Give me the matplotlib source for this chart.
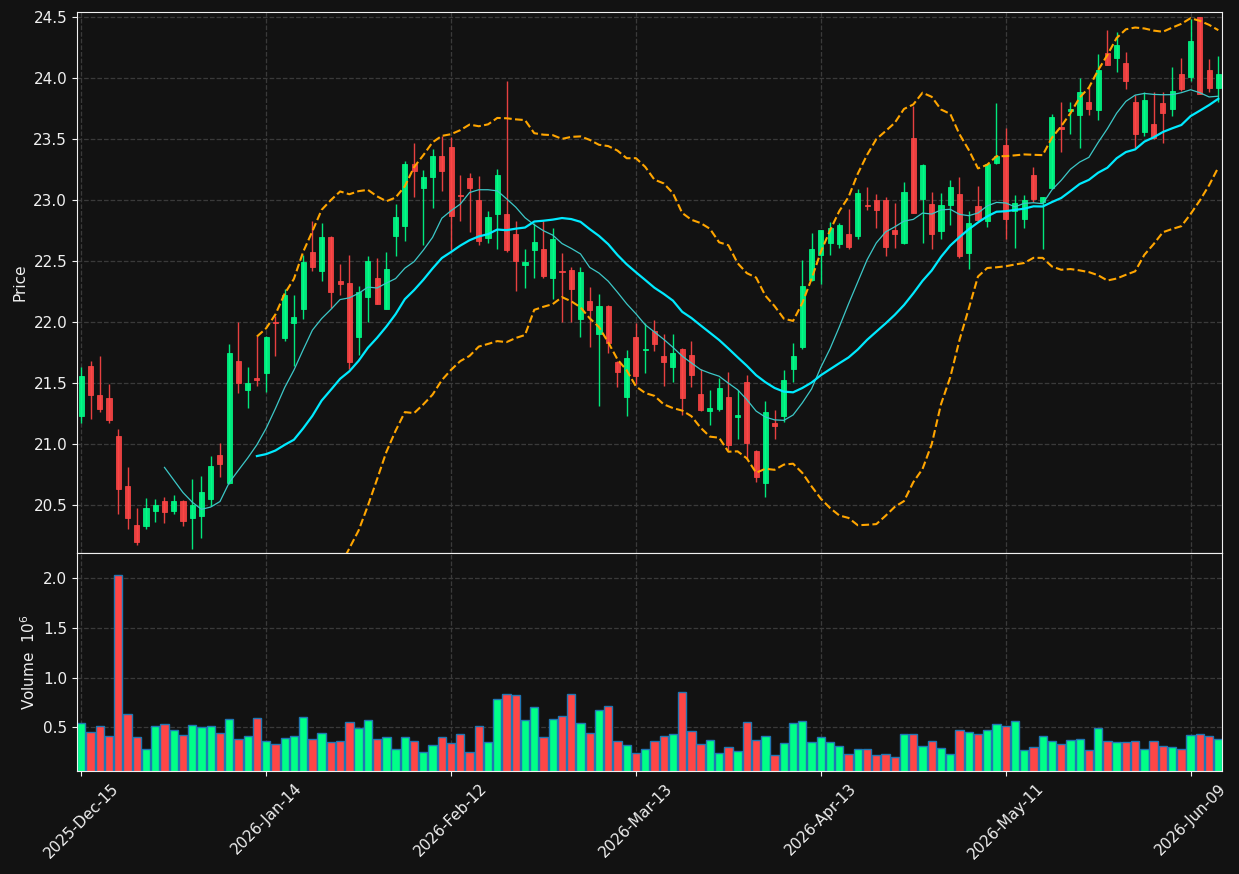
import matplotlib.pyplot as plt
import numpy as np
import pandas as pd

# daily OHLC
opens = [21.23, 21.64, 21.40, 21.38, 21.07, 20.66, 20.34, 20.33, 20.45, 20.53,
         20.45, 20.53, 20.39, 20.41, 20.55, 20.91, 20.68, 21.68, 21.44, 21.54,
         21.58, 22.00, 21.87, 21.99, 22.11, 22.58, 22.42, 22.70, 22.34, 22.32,
         21.88, 22.21, 22.36, 22.11, 22.71, 22.79, 23.30, 23.10, 23.19, 23.36,
         23.44, 23.044, 23.18, 23.00, 22.69, 22.89, 22.89, 22.72, 22.47, 22.59,
         22.60, 22.36, 22.42, 22.43, 22.03, 22.17, 21.90, 22.13, 21.67, 21.39,
         21.88, 21.77, 21.93, 21.72, 21.63, 21.78, 21.73, 21.41, 21.27, 21.29,
         21.39, 21.22, 21.51, 20.94, 20.68, 21.17, 21.23, 21.62, 21.80, 22.35,
         22.55, 22.65, 22.64, 22.72, 22.71, 22.962, 23.00, 23.00, 22.76, 22.65,
         23.51, 23.01, 22.97, 22.75, 22.96, 23.05, 22.57, 22.95, 22.83, 23.31,
         23.45, 22.91, 22.85, 23.21, 22.99, 23.10, 23.598, 23.73, 23.70, 23.81,
         23.74, 24.21, 24.17, 24.13, 23.81, 23.56, 23.63, 23.80, 23.75, 24.04,
         24.01, 24.50, 24.07, 23.92]
highs = [21.63, 21.68, 21.72, 21.49, 21.12, 20.81, 20.48, 20.56, 20.55, 20.57,
         20.58, 20.54, 20.71, 20.74, 20.90, 21.01, 21.82, 22.00, 21.63, 21.89,
         21.89, 22.05, 22.27, 22.22, 22.55, 22.83, 22.81, 22.71, 22.48, 22.55,
         22.30, 22.54, 22.53, 22.58, 22.97, 23.32, 23.47, 23.25, 23.42, 23.53,
         23.52, 23.21, 23.22, 23.20, 22.91, 23.26, 23.98, 22.83, 22.60, 22.81,
         22.83, 22.77, 22.57, 22.45, 22.45, 22.29, 22.23, 22.14, 21.68, 21.77,
         21.99, 21.99, 22.02, 21.90, 21.90, 21.79, 21.85, 21.62, 21.44, 21.54,
         21.59, 21.44, 21.57, 20.95, 21.35, 21.28, 21.61, 21.83, 22.51, 22.73,
         22.76, 22.82, 22.81, 22.93, 23.09, 23.11, 23.05, 23.03, 22.98, 23.15,
         23.77, 23.30, 23.07, 23.06, 23.17, 23.19, 22.91, 23.12, 23.31, 23.80,
         23.59, 23.04, 23.04, 23.27, 23.03, 23.71, 23.81, 23.81, 24.00, 23.93,
         24.20, 24.40, 24.38, 24.22, 23.86, 23.89, 23.89, 23.89, 24.09, 24.17,
         24.49, 24.50, 24.16, 24.18]
lows = [21.17, 21.21, 21.26, 21.17, 20.43, 20.30, 20.17, 20.30, 20.36, 20.35,
        20.43, 20.33, 20.14, 20.23, 20.49, 20.73, 20.67, 21.42, 21.30, 21.48,
        21.43, 21.72, 21.85, 21.64, 22.03, 22.42, 22.34, 22.12, 22.22, 21.62,
        21.73, 22.00, 22.15, 22.11, 22.54, 22.67, 23.03, 22.63, 22.94, 23.08,
        22.59, 22.83, 22.74, 22.63, 22.65, 22.60, 22.58, 22.26, 22.28, 22.36,
        22.36, 22.19, 22.00, 22.00, 21.88, 21.80, 21.31, 21.75, 21.47, 21.23,
        21.49, 21.58, 21.76, 21.48, 21.51, 21.24, 21.47, 21.27, 21.16, 21.27,
        20.95, 21.04, 20.88, 20.69, 20.57, 21.04, 21.18, 21.51, 21.78, 22.34,
        22.31, 22.55, 22.61, 22.60, 22.68, 22.92, 22.77, 22.54, 22.61, 22.64,
        22.90, 22.65, 22.60, 22.68, 22.80, 22.53, 22.44, 22.83, 22.78, 23.30,
        22.68, 22.61, 22.77, 22.99, 22.60, 23.09, 23.40, 23.54, 23.43, 23.70,
        23.66, 24.11, 24.05, 23.91, 23.43, 23.53, 23.50, 23.47, 23.69, 23.90,
        23.98, 23.87, 23.89, 23.81]
closes = [21.56, 21.40, 21.29, 21.20, 20.63, 20.39, 20.20, 20.48, 20.50, 20.44,
          20.53, 20.37, 20.50, 20.61, 20.82, 20.84, 21.75, 21.50, 21.50, 21.53,
          21.88, 21.99, 22.22, 22.04, 22.49, 22.45, 22.70, 22.25, 22.31, 21.67,
          22.25, 22.50, 22.15, 22.44, 22.86, 23.30, 23.24, 23.19, 23.36, 23.24,
          22.87, 23.038, 23.10, 22.67, 22.86, 23.21, 22.59, 22.50, 22.495, 22.66,
          22.38, 22.68, 22.41, 22.27, 22.41, 22.10, 22.13, 21.83, 21.59, 21.71,
          21.56, 21.78, 21.82, 21.67, 21.75, 21.38, 21.57, 21.28, 21.30, 21.46,
          20.99, 21.24, 21.01, 20.73, 21.26, 21.15, 21.53, 21.72, 22.30, 22.60,
          22.76, 22.77, 22.80, 22.62, 23.06, 22.954, 22.92, 22.62, 22.72, 23.07,
          22.90, 23.29, 22.72, 22.96, 23.11, 22.54, 22.81, 22.84, 23.30, 23.36,
          22.85, 22.98, 23.00, 23.01, 23.03, 23.68, 23.588, 23.75, 23.89, 23.75,
          24.07, 24.11, 24.27, 23.98, 23.54, 23.82, 23.51, 23.72, 23.90, 23.91,
          24.31, 23.87, 23.92, 24.04]
# volume in millions
volumes = [0.54, 0.45, 0.51, 0.41, 2.035, 0.63, 0.40, 0.286, 0.51, 0.53,
           0.47, 0.42, 0.52, 0.50, 0.51, 0.44, 0.58, 0.38, 0.41, 0.59,
           0.36, 0.33, 0.39, 0.41, 0.60, 0.38, 0.44, 0.35, 0.36, 0.55,
           0.49, 0.57, 0.38, 0.40, 0.28, 0.40, 0.36, 0.25, 0.32, 0.40,
           0.34, 0.43, 0.25, 0.51, 0.35, 0.79, 0.84, 0.83, 0.57, 0.70,
           0.40, 0.58, 0.61, 0.84, 0.54, 0.44, 0.67, 0.72, 0.36, 0.32,
           0.24, 0.28, 0.36, 0.41, 0.43, 0.86, 0.46, 0.33, 0.37, 0.24,
           0.30, 0.26, 0.55, 0.37, 0.41, 0.22, 0.34, 0.54, 0.56, 0.35,
           0.40, 0.35, 0.31, 0.23, 0.28, 0.28, 0.22, 0.23, 0.20, 0.43,
           0.43, 0.31, 0.36, 0.29, 0.23, 0.47, 0.45, 0.43, 0.47, 0.53,
           0.51, 0.56, 0.27, 0.30, 0.41, 0.36, 0.33, 0.37, 0.38, 0.27,
           0.49, 0.36, 0.35, 0.35, 0.36, 0.28, 0.36, 0.31, 0.30, 0.28,
           0.42, 0.43, 0.41, 0.38]

holidays = ['2025-12-25', '2026-01-01', '2026-01-19', '2026-02-16',
            '2026-04-03', '2026-05-25']
dates = pd.bdate_range('2025-12-15', periods=len(closes), freq='C',
                       holidays=holidays)

bg = '#121212'
up_color = '#00ff88'
down_color = '#ff4646'

o = np.array(opens)
c = np.array(closes)
n = len(c)
x = np.arange(n)
colors = [up_color if cc >= oo else down_color for oo, cc in zip(o, c)]

close_s = pd.Series(closes)
mav10 = close_s.rolling(10).mean()
mav20 = close_s.rolling(20).mean()
std20 = close_s.rolling(20).std(ddof=0)
upper = mav20 + 2 * std20
lower = mav20 - 2 * std20

plt.rcParams['font.size'] = 11
fig = plt.figure(figsize=(12.39, 8.74), dpi=100, facecolor=bg)
ax = fig.add_axes([0.0621, 0.3673, 0.9242, 0.619])
axv = fig.add_axes([0.0621, 0.1178, 0.9242, 0.2494], sharex=ax)

for a in (ax, axv):
    a.set_facecolor(bg)
    a.set_axisbelow(True)
    a.grid(True, ls='--', color='#3a3a3a', lw=0.9)
    for s in a.spines.values():
        s.set_color('#f0f0f0')
    a.tick_params(colors='#f0f0f0', labelcolor='#f0f0f0')

# candles
ax.vlines(x, lows, highs, colors=colors, lw=1.0, alpha=0.9)
ax.bar(x, np.abs(c - o), bottom=np.minimum(o, c), width=0.55,
       color=colors, edgecolor=colors, linewidth=0.6, alpha=0.9)

ax.plot(x, mav10, color='#3cc8c8', lw=0.9)
ax.plot(x, mav20, color='#00eaff', lw=1.6)
ax.plot(x, upper, color='#ffa500', ls='--', lw=1.5)
ax.plot(x, lower, color='#ffa500', ls='--', lw=1.5)

ax.set_xlim(-0.47, 123.4)
ax.set_ylim(20.107, 24.545)
ax.set_yticks(np.arange(20.5, 24.51, 0.5))
ax.set_ylabel('Price', color='#f0f0f0')
ax.tick_params(labelbottom=False)

# volume
axv.bar(x, volumes, width=0.9, color=colors, edgecolor='#1f77b4', linewidth=1)
axv.set_ylim(0.06, 2.255)
axv.set_yticks([0.5, 1.0, 1.5, 2.0])
axv.set_ylabel('Volume  $10^{6}$', color='#f0f0f0')
ticks = list(range(0, n, 20))
axv.set_xticks(ticks)
axv.set_xticklabels([dates[i].strftime('%Y-%b-%d') for i in ticks],
                    rotation=45)

fig.savefig('out.png', facecolor=bg)
